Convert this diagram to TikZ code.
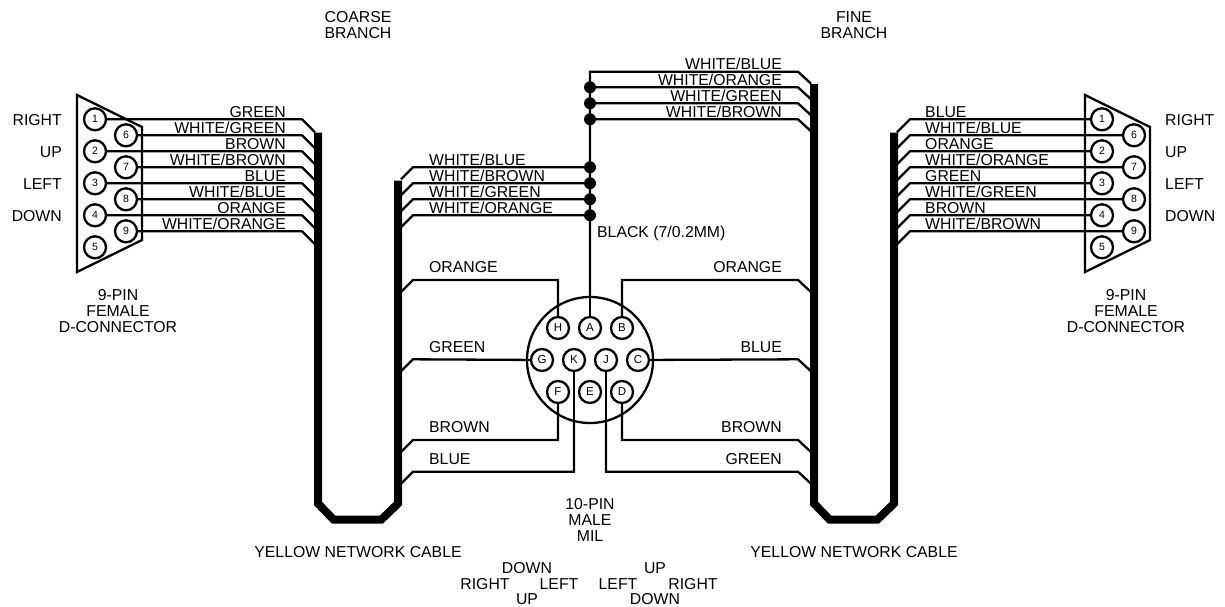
\documentclass[tikz,border=0pt]{standalone}
\usepackage{fontspec}
\setmainfont{Liberation Sans}
\usepackage{tikz}

\begin{document}
\begin{tikzpicture}[x=1pt, y=-1pt]
        \tikzstyle{every node} = [font=\fontsize{15.8}{16}\selectfont, inner sep=0pt, align=center]
        \tikzstyle{pin}    = [circle, draw, line width=2.3pt, minimum size=22pt, font=\fontsize{10.5}{12}\selectfont]
        \tikzstyle{pinmil} = [pin, font=\fontsize{11.5}{12}\selectfont]
        \tikzstyle{nod}    = [circle, fill=black, minimum size=12pt]
        \tikzstyle{fir}    = [line width=2.3pt, line join=miter]
        \tikzstyle{firsub} = [line width=1.2pt]
        \tikzstyle{cablu}  = [line width=8pt, line join=miter]
        \tikzstyle{carcasa} = [line width=2.3pt, line join=miter]
        \tikzstyle{dr}     = [anchor=base east]
        \tikzstyle{st}     = [anchor=base west]

        \useasboundingbox (0,0) rectangle (1225,606);

        % Conectorul din stanga.
        \draw[carcasa] (77,95) -- (142,127) -- (142,240) -- (77,272) -- cycle;
        \node[pin] (s1) at (95,119.3) {1};
        \node[pin] (s6) at (126,135.3) {6};
        \node[pin] (s2) at (95,151.3) {2};
        \node[pin] (s7) at (126,167.3) {7};
        \node[pin] (s3) at (95,183.3) {3};
        \node[pin] (s8) at (126,199.3) {8};
        \node[pin] (s4) at (95,215.3) {4};
        \node[pin] (s9) at (126,231.3) {9};
        \node[pin] (s5) at (95,247.3) {5};

        % Conectorul din dreapta.
        \draw[carcasa] (1085,95) -- (1150,127) -- (1150,240) -- (1085,272) -- cycle;
        \node[pin] (d1) at (1102,119.3) {1};
        \node[pin] (d6) at (1134,135.3) {6};
        \node[pin] (d2) at (1102,151.3) {2};
        \node[pin] (d7) at (1134,167.3) {7};
        \node[pin] (d3) at (1102,183.3) {3};
        \node[pin] (d8) at (1134,199.3) {8};
        \node[pin] (d4) at (1102,215.3) {4};
        \node[pin] (d9) at (1134,231.3) {9};
        \node[pin] (d5) at (1102,247.3) {5};

        % Conectorul MIL.
        \node[circle, draw, line width=2.3pt, minimum size=126pt] (mil) at (590,360) {};
        \node[pinmil] (H) at (558,328) {H};
        \node[pinmil] (A) at (590,328) {A};
        \node[pinmil] (B) at (622,328) {B};
        \node[pinmil] (G) at (542,360) {G};
        \node[pinmil] (K) at (574,360) {K};
        \node[pinmil] (J) at (606,360) {J};
        \node[pinmil] (C) at (638,360) {C};
        \node[pinmil] (F) at (558,392) {F};
        \node[pinmil] (E) at (590,392) {E};
        \node[pinmil] (D) at (622,392) {D};

        % Cablurile.
        \coordinate (ca) at (318,132.7);
        \coordinate (cb) at (398,180.7);
        \coordinate (cc) at (814,84);
        \coordinate (cd) at (894,132.7);
        \draw[cablu] (ca) -- (318,503.5) -- (333.5,519.5) -- (381.5,519.5) -- (398,503.5) -- (cb);
        \draw[cablu] (cc) -- (814,503.5) -- (829.5,519.5) -- (877.5,519.5) -- (894,503.5) -- (cd);

        % Nodurile firului negru.
        \node[nod] (n1) at (590,87.3) {};
        \node[nod] (n2) at (590,103.3) {};
        \node[nod] (n3) at (590,119.3) {};
        \node[nod] (n4) at (590,167.3) {};
        \node[nod] (n5) at (590,183.3) {};
        \node[nod] (n6) at (590,199.3) {};
        \node[nod] (n7) at (590,215.3) {};

        % Firele din stanga.
        \coordinate (a1) at (315,132.3);
        \coordinate (a2) at (315,148.3);
        \coordinate (a3) at (315,164.3);
        \coordinate (a4) at (315,180.3);
        \coordinate (a5) at (315,196.3);
        \coordinate (a6) at (315,212.3);
        \coordinate (a7) at (315,228.3);
        \coordinate (a8) at (315,244.3);
        \draw[fir] (a1) -- ++(-13,-13) -- (s1);
        \draw[fir] (a2) -- ++(-13,-13) -- (s6);
        \draw[fir] (a3) -- ++(-13,-13) -- (s2);
        \draw[fir] (a4) -- ++(-13,-13) -- (s7);
        \draw[fir] (a5) -- ++(-13,-13) -- (s3);
        \draw[fir] (a6) -- ++(-13,-13) -- (s8);
        \draw[fir] (a7) -- ++(-13,-13) -- (s4);
        \draw[fir] (a8) -- ++(-13,-13) -- (s9);

        % Firele din dreapta.
        \coordinate (b1) at (897,132.3);
        \coordinate (b2) at (897,148.3);
        \coordinate (b3) at (897,164.3);
        \coordinate (b4) at (897,180.3);
        \coordinate (b5) at (897,196.3);
        \coordinate (b6) at (897,212.3);
        \coordinate (b7) at (897,228.3);
        \coordinate (b8) at (897,244.3);
        \draw[fir] (b1) -- ++(13,-13) -- (d1);
        \draw[fir] (b2) -- ++(13,-13) -- (d6);
        \draw[fir] (b3) -- ++(13,-13) -- (d2);
        \draw[fir] (b4) -- ++(13,-13) -- (d7);
        \draw[fir] (b5) -- ++(13,-13) -- (d3);
        \draw[fir] (b6) -- ++(13,-13) -- (d8);
        \draw[fir] (b7) -- ++(13,-13) -- (d4);
        \draw[fir] (b8) -- ++(13,-13) -- (d9);

        % Firele albe, cu firul negru.
        \coordinate (e1) at (401,179.3);
        \coordinate (e2) at (401,195.3);
        \coordinate (e3) at (401,211.3);
        \coordinate (e4) at (401,227.3);
        \draw[fir] (e1) -- ++(12,-12) -- (n4);
        \draw[fir] (e2) -- ++(12,-12) -- (n5);
        \draw[fir] (e3) -- ++(12,-12) -- (n6);
        \draw[fir] (e4) -- ++(12,-12) -- (n7);
        \coordinate (f1) at (811,83.7);
        \coordinate (f2) at (811,99.3);
        \coordinate (f3) at (811,115.3);
        \coordinate (f4) at (811,131.3);
        \draw[fir] (f1) -- ++(-13,-12) -- (590,71.7) -- (mil.north);
        \draw[firsub] (mil.north) -- (A);
        \draw[fir] (f2) -- ++(-13,-12) -- (n1);
        \draw[fir] (f3) -- ++(-13,-12) -- (n2);
        \draw[fir] (f4) -- ++(-13,-12) -- (n3);

        % Firele conectorului MIL.
        \coordinate (g1) at (401,292);
        \coordinate (g2) at (401,371.3);
        \coordinate (g3) at (401,452);
        \coordinate (g4) at (401,483.7);
        \coordinate (h1) at (811,292);
        \coordinate (h2) at (811,371.3);
        \coordinate (h3) at (811,452);
        \coordinate (h4) at (811,483.7);
        \coordinate (kj) at (574,422);
        \coordinate (jj) at (606,422);
        \draw[fir] (g1) -- ++(12,-12) -- (558,280) -- (H);
        \draw[fir] (g2) -- ++(12,-12) -- (G);
        \draw[fir] (g3) -- ++(12,-12) -- (558,440) -- (F);
        \draw[fir] (g4) -- ++(12,-12) -- (574,471.7) -- (kj);
        \draw[firsub] (kj) -- (K);
        \draw[fir] (h1) -- ++(-13,-12) -- (622,280) -- (B);
        \draw[fir] (h2) -- ++(-13,-12) -- (C);
        \draw[fir] (h3) -- ++(-13,-12) -- (622,440) -- (D);
        \draw[fir] (h4) -- ++(-13,-12) -- (606,471.7) -- (jj);
        \draw[firsub] (jj) -- (J);

        % Etichetele firelor.
        \node[dr] (es1) at (286,117.3) {GREEN};
        \node[dr] (es2) at (286,133.3) {WHITE/GREEN};
        \node[dr] (es3) at (286,149.3) {BROWN};
        \node[dr] (es4) at (286,165.3) {WHITE/BROWN};
        \node[dr] (es5) at (286,181.3) {BLUE};
        \node[dr] (es6) at (286,197.3) {WHITE/BLUE};
        \node[dr] (es7) at (286,213.3) {ORANGE};
        \node[dr] (es8) at (286,229.3) {WHITE/ORANGE};

        \node[st] (ed1) at (925,117.3) {BLUE};
        \node[st] (ed2) at (925,133.3) {WHITE/BLUE};
        \node[st] (ed3) at (925,149.3) {ORANGE};
        \node[st] (ed4) at (925,165.3) {WHITE/ORANGE};
        \node[st] (ed5) at (925,181.3) {GREEN};
        \node[st] (ed6) at (925,197.3) {WHITE/GREEN};
        \node[st] (ed7) at (925,213.3) {BROWN};
        \node[st] (ed8) at (925,229.3) {WHITE/BROWN};

        \node[st] (em1) at (429,165.3) {WHITE/BLUE};
        \node[st] (em2) at (429,181.3) {WHITE/BROWN};
        \node[st] (em3) at (429,197.3) {WHITE/GREEN};
        \node[st] (em4) at (429,213.3) {WHITE/ORANGE};
        \node[dr] (en1) at (782,69.7) {WHITE/BLUE};
        \node[dr] (en2) at (782,85.3) {WHITE/ORANGE};
        \node[dr] (en3) at (782,101.3) {WHITE/GREEN};
        \node[dr] (en4) at (782,117.3) {WHITE/BROWN};
        \node[st] (eb) at (597,237.5) {BLACK (7/0.2MM)};

        \node[st] (eg1) at (429,272) {ORANGE};
        \node[st] (eg2) at (429,352) {GREEN};
        \node[st] (eg3) at (429,432) {BROWN};
        \node[st] (eg4) at (429,464) {BLUE};
        \node[dr] (eh1) at (782,272) {ORANGE};
        \node[dr] (eh2) at (782,352) {BLUE};
        \node[dr] (eh3) at (782,432) {BROWN};
        \node[dr] (eh4) at (782,464) {GREEN};

        % Directiile joystick-ului.
        \node[dr] (r1) at (62,125.5) {RIGHT};
        \node[dr] (r2) at (62,157.5) {UP};
        \node[dr] (r3) at (62,189.5) {LEFT};
        \node[dr] (r4) at (62,221.5) {DOWN};
        \node[st] (q1) at (1165,125.5) {RIGHT};
        \node[st] (q2) at (1165,157.5) {UP};
        \node[st] (q3) at (1165,189.5) {LEFT};
        \node[st] (q4) at (1165,221.5) {DOWN};

        % Titlurile.
        \node (coarse) at (358,25) {COARSE\\BRANCH};
        \node (fine) at (854,25) {FINE\\BRANCH};
        \node (sub9s) at (118,311) {9-PIN\\FEMALE\\D-CONNECTOR};
        \node (sub9d) at (1126,311) {9-PIN\\FEMALE\\D-CONNECTOR};
        \node (sub10) at (590,520) {10-PIN\\MALE\\MIL};
        \node (yels) at (358,552) {YELLOW NETWORK CABLE};
        \node (yeld) at (854,552) {YELLOW NETWORK CABLE};

        \node (x1) at (527,568) {DOWN};
        \node (x2) at (485,584) {RIGHT};
        \node (x3) at (559,584) {LEFT};
        \node (x4) at (527,599) {UP};
        \node (y1) at (655,568) {UP};
        \node (y2) at (618,584) {LEFT};
        \node (y3) at (693,584) {RIGHT};
        \node (y4) at (655,599) {DOWN};
    \end{tikzpicture}
\end{document}
